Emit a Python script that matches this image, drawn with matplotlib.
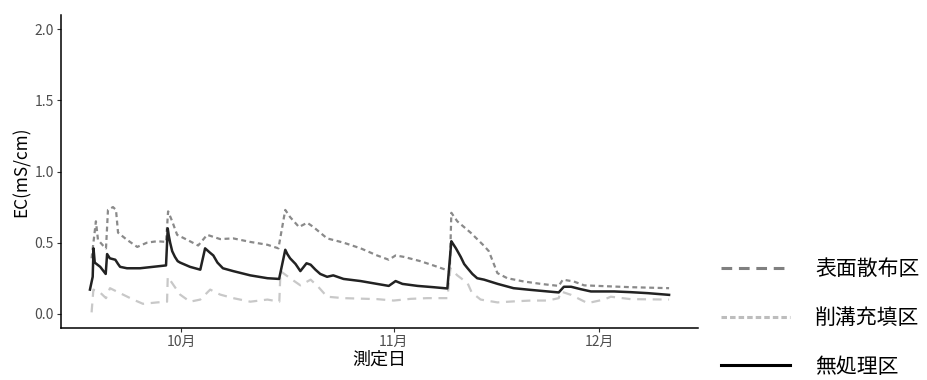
import matplotlib
matplotlib.use("Agg")
import matplotlib.pyplot as plt
from matplotlib.lines import Line2D
import pandas as pd

plt.rcParams['font.family'] = ['Noto Sans CJK JP', 'DejaVu Sans']

base_date = "2020-10-01"
series_names = ["表面散布区", "削溝充填区", "無処理区"]

# days from Oct 1 and EC values (mS/cm)
surface_days = [-13.06, -12.43, -12.13, -11.4, -10.96, -10.67, -9.94, -9.5, -9.2, -7.9, -6.4,
                -4.97, -3.5, -2.19, -1.9, -1.3, -0.58, 0.88, 2.49, 3.8, 5.7, 7.6, 10.1, 12.6,
                14.2, 15.2, 15.9, 17.2, 18.4, 19.3, 21.3, 23.7, 26.2, 28.6, 30.3, 31.3, 32.5,
                34.9, 36.8, 38.6, 39.2, 39.43, 40.3, 42.25, 44.15, 44.9, 46.15, 47.6, 50.0,
                52.5, 55.1, 55.7, 57.3, 58.8, 60.8, 65.6, 71.2]
surface_vals = [0.39, 0.65, 0.52, 0.48, 0.46, 0.73, 0.75, 0.73, 0.57, 0.52, 0.47,
                0.50, 0.51, 0.505, 0.72, 0.65, 0.555, 0.52, 0.48, 0.555, 0.525, 0.53, 0.505, 0.485,
                0.46, 0.73, 0.68, 0.61, 0.64, 0.61, 0.53, 0.50, 0.46, 0.41, 0.38, 0.41, 0.40,
                0.37, 0.34, 0.31, 0.30, 0.71, 0.65, 0.57, 0.48, 0.44, 0.286, 0.25, 0.227,
                0.21, 0.196, 0.24, 0.227, 0.20, 0.196, 0.187, 0.18]

trench_days = [-13.06, -12.8, -11.84, -10.96, -10.38, -8.9, -7.0, -5.56, -3.5, -2.05, -1.95,
               -1.3, -0.15, 1.3, 2.8, 4.24, 5.7, 7.6, 10.1, 12.6, 14.33, 14.5, 15.9, 17.4,
               18.9, 20.0, 21.3, 23.7, 28.6, 31.0, 33.5, 35.9, 38.85, 39.3, 40.3, 41.8, 42.4,
               43.7, 46.15, 48.5, 51.0, 53.5, 55.1, 55.4, 56.9, 59.3, 61.7, 62.7, 65.6, 71.2]
trench_vals = [0.01, 0.17, 0.15, 0.11, 0.18, 0.145, 0.10, 0.07, 0.08, 0.085, 0.26,
               0.215, 0.135, 0.085, 0.10, 0.17, 0.135, 0.11, 0.085, 0.10, 0.085, 0.30, 0.25, 0.20,
               0.24, 0.19, 0.12, 0.11, 0.103, 0.093, 0.105, 0.11, 0.11, 0.32, 0.27, 0.215, 0.15,
               0.10, 0.08, 0.087, 0.093, 0.093, 0.11, 0.157, 0.133, 0.075, 0.10, 0.12, 0.103, 0.10]

control_days = [-13.3, -12.9, -12.78, -12.6, -12.2, -11.8, -11.0, -10.8, -10.4, -9.6, -9.2,
                -8.9, -7.9, -6.0, -4.1, -2.2, -1.95, -1.8, -1.6, -1.3, -0.9, -0.5, -0.15,
                1.3, 2.8, 3.5, 4.2, 4.7, 5.3, 6.1, 7.6, 10.1, 12.6, 14.3, 15.2, 15.5, 15.9,
                16.7, 17.4, 18.3, 18.9, 19.6, 20.3, 21.3, 22.2, 23.7, 26.2, 28.6, 30.3, 31.3,
                32.3, 34.5, 36.8, 38.85, 39.43, 39.7, 40.1, 40.8, 41.3, 41.8, 42.5, 43.2,
                44.2, 46.2, 48.5, 51.0, 53.5, 55.1, 55.85, 56.9, 58.3, 59.8, 63.2, 65.6,
                68.1, 71.2]
control_vals = [0.17, 0.26, 0.46, 0.36, 0.345, 0.33, 0.28, 0.42, 0.39, 0.38, 0.35,
                0.33, 0.32, 0.32, 0.33, 0.34, 0.60, 0.55, 0.50, 0.44, 0.40, 0.37, 0.36,
                0.33, 0.31, 0.46, 0.43, 0.41, 0.36, 0.32, 0.30, 0.27, 0.25, 0.245, 0.45, 0.42, 0.39,
                0.35, 0.30, 0.355, 0.345, 0.31, 0.28, 0.26, 0.27, 0.245, 0.23, 0.21, 0.196, 0.23,
                0.21, 0.196, 0.187, 0.178, 0.51, 0.49, 0.46, 0.40, 0.35, 0.32, 0.28, 0.25,
                0.24, 0.21, 0.18, 0.168, 0.157, 0.15, 0.19, 0.19, 0.173, 0.157, 0.157, 0.152,
                0.145, 0.133]

y_ticks = [0.0, 0.5, 1.0, 1.5, 2.0]
x_tick_dates = ["2020-10-01", "2020-11-01", "2020-12-01"]


def to_dates(days):
    return pd.Timestamp(base_date) + pd.to_timedelta(days, unit="D")


fig = plt.figure(figsize=(9.27, 3.8), dpi=100)
ax = fig.add_axes([0.0658, 0.1368, 0.6872, 0.8237])

c_surface = "#8a8a8a"
c_trench = "#c8c8c8"
c_control = "#222222"

ax.plot(to_dates(surface_days), surface_vals, color=c_surface, lw=1.6,
        dashes=(2.2, 1.6))
ax.plot(to_dates(trench_days), trench_vals, color=c_trench, lw=1.6,
        dashes=(4, 3))
ax.plot(to_dates(control_days), control_vals, color=c_control, lw=1.8)

all_days = surface_days + trench_days + control_days
dmin, dmax = min(all_days), max(all_days)
pad = 0.05 * (dmax - dmin)
ax.set_xlim(to_dates([dmin - pad])[0], to_dates([dmax + pad])[0])
ax.set_ylim(-0.1, 2.1)

ax.set_yticks(y_ticks)
ax.set_yticklabels([f"{v:.1f}" for v in y_ticks])
xt = pd.to_datetime(x_tick_dates)
ax.set_xticks(xt)
ax.set_xticklabels([f"{d.month}月" for d in xt])

for s in ["top", "right"]:
    ax.spines[s].set_visible(False)
for s in ["left", "bottom"]:
    ax.spines[s].set_linewidth(1.1)
    ax.spines[s].set_color("black")
ax.tick_params(axis="both", colors="#333333", labelcolor="#4d4d4d",
               labelsize=10, length=3, width=0.8, pad=2)

ax.set_ylabel("EC(mS/cm)", fontsize=12.4, color="black", labelpad=3)
ax.set_xlabel("測定日", fontsize=13, color="black", labelpad=1)

handles = [
    Line2D([], [], color="#808080", lw=2.2, dashes=(3.5, 2.2)),
    Line2D([], [], color="#bdbdbd", lw=2.2, dashes=(1.8, 1.0)),
    Line2D([], [], color="black", lw=2.2),
]
fig.legend(handles, series_names, loc="center left",
           bbox_to_anchor=(0.758, 0.163), frameon=False, fontsize=15,
           handlelength=3.3, handletextpad=1.2, labelspacing=1.28)

fig.savefig("out.png", dpi=100, facecolor="white")
